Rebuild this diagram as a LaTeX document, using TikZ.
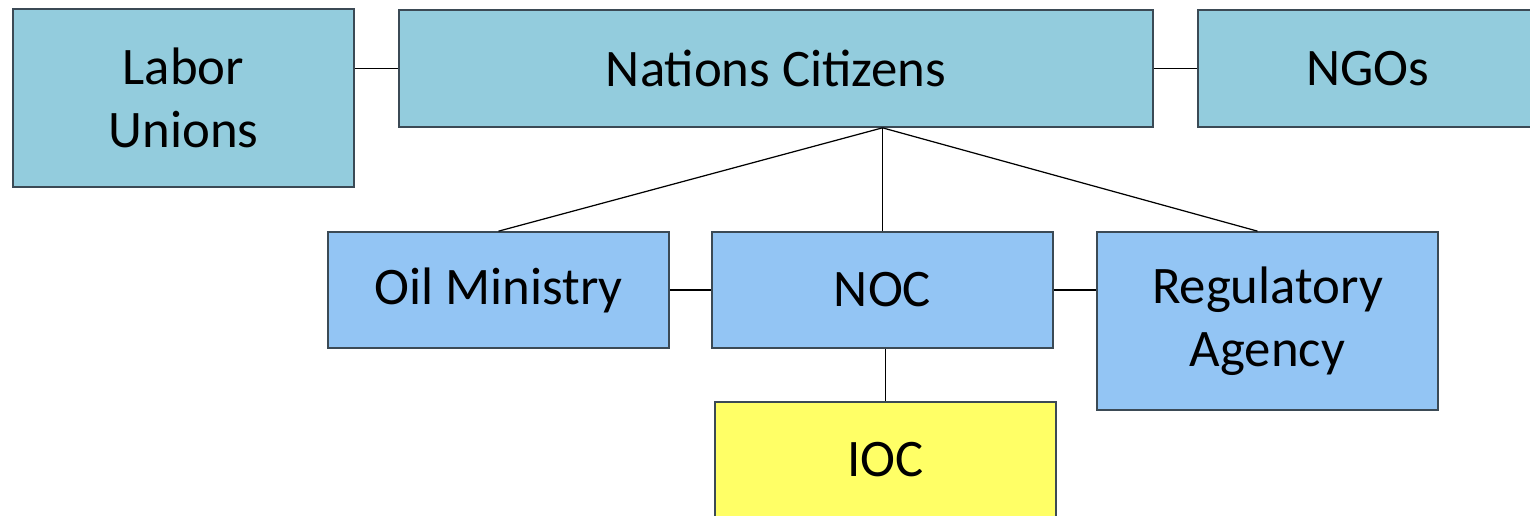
\documentclass[tikz,border=0pt]{standalone}
\usepackage{fontspec}
\setmainfont{Carlito}
\usetikzlibrary{calc}
\definecolor{topblue}{HTML}{93CCDD}
\definecolor{midblue}{HTML}{93C5F4}
\definecolor{iocyellow}{HTML}{FFFF66}
\definecolor{boxline}{HTML}{3B4A55}
\tikzset{
  actor/.style={draw=boxline, line width=0.45pt, inner sep=0pt, align=center,
    font=\fontsize{15}{18}\selectfont, minimum width=3.41cm},
  link/.style={draw=black, line width=0.35pt},
}
\begin{document}
\begin{tikzpicture}[x=0.01cm, y=-0.01cm]
	\useasboundingbox (0,0) rectangle (1530,515);
	\node[actor, fill=topblue, minimum height=1.78cm] (unions) at (183.5,98) {Labor\\Unions};
	\node[actor, fill=topblue, minimum width=7.54cm, minimum height=1.17cm] (citizens) at (776,68.5) {Nations Citizens};
	\node[actor, fill=topblue, minimum width=3.40cm, minimum height=1.17cm] (ngos) at (1368,68.5) {NGOs};
	\node[actor, fill=midblue, minimum height=1.16cm] (ministry) at (498.5,290) {Oil Ministry};
	\node[actor, fill=midblue, minimum height=1.16cm] (noc) at (882.5,290) {NOC};
	\node[actor, fill=midblue, minimum height=1.78cm] (agency) at (1267.5,321) {Regulatory\\Agency};
	\node[actor, fill=iocyellow, minimum height=1.16cm] (ioc) at (885.5,460) {IOC};
	\coordinate (hub) at (citizens.south -| noc.north);
	\draw[link] (citizens.west) -- (citizens.west -| unions.east);
	\draw[link] (citizens.east) -- (ngos.west);
	\draw[link] (hub) -- (ministry.north);
	\draw[link] (hub) -- (noc.north);
	\draw[link] (hub) -- ($(agency.north)+(-10,0)$);
	\draw[link] (ministry.east) -- (noc.west);
	\draw[link] (noc.east) -- (noc.east -| agency.west);
	\draw[link] (noc.south -| ioc.north) -- (ioc.north);
\end{tikzpicture}
\end{document}
